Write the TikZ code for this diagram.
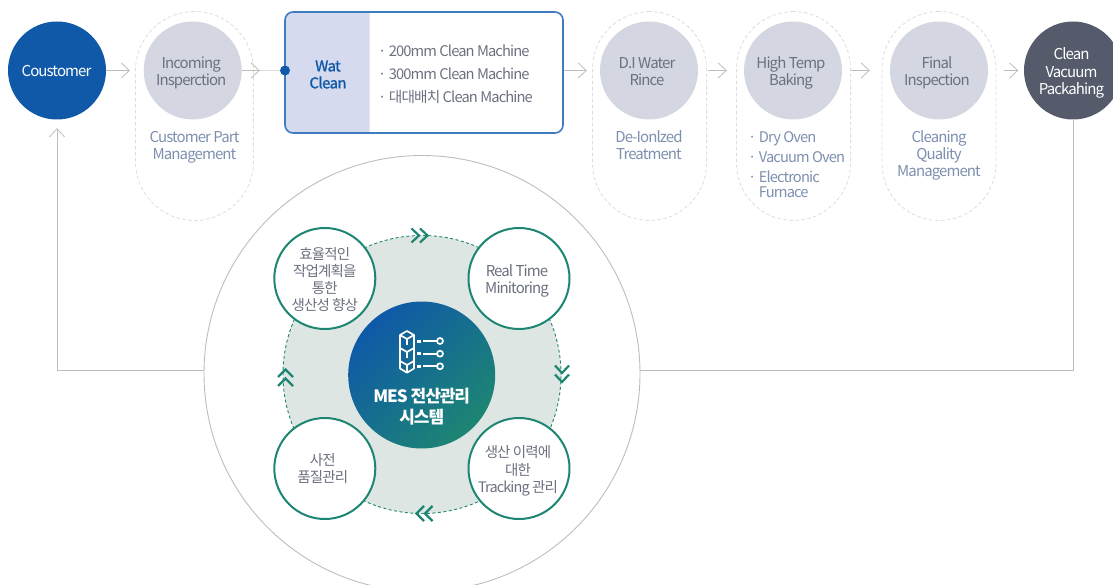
\documentclass[tikz,border=0pt]{standalone}
\usepackage{fontspec}
\setmainfont[LetterSpace=-6]{Noto Sans CJK KR}
\newfontfamily\medfont[LetterSpace=-4,FakeBold=1.2]{Noto Sans CJK KR}
\usetikzlibrary{arrows.meta,calc}
\definecolor{custblue}{HTML}{0F59A8}
\definecolor{soft}{HTML}{D4D7E2}
\definecolor{graytext}{HTML}{6C7180}
\definecolor{subtext}{HTML}{7D90AE}
\definecolor{darkcirc}{HTML}{555B6B}
\definecolor{dashgray}{HTML}{DCDCDC}
\definecolor{arrowgray}{HTML}{BDBDBD}
\definecolor{boxblue}{HTML}{3F7CBF}
\definecolor{cellblue}{HTML}{D6DAEE}
\definecolor{teal1}{HTML}{1D8672}
\definecolor{discfill}{HTML}{DDE6E3}
\tikzset{
  x=1pt,y=-1pt,
  txt/.style={font=\fontsize{15}{17}\selectfont,inner sep=0pt,align=center},
  stage/.style={circle,minimum size=98pt,inner sep=0pt},
  softstage/.style={stage,fill=soft},
  softlab/.style={txt,text=graytext},
  whitelab/.style={txt,text=white},
  capsule/.style={rectangle,draw=dashgray,dash pattern=on 3.5pt off 2.5pt,line width=.8pt,rounded corners=57pt,minimum width=114pt,minimum height=209pt,inner sep=0pt},
  subnote/.style={txt,text=subtext},
  flow/.style={draw=arrowgray,line width=.8pt,-{Straight Barb[length=8pt,width=15pt,line width=.8pt]}},
  ret/.style={draw=arrowgray,line width=1pt},
  small/.style={circle,draw=teal1,line width=2pt,fill=white,minimum size=101pt,inner sep=0pt},
  smalllab/.style={txt,text=graytext,font=\fontsize{14.5}{17}\selectfont},
  chev/.style={draw=teal1,line width=2.2pt},
  icon/.style={draw=white,line width=1.7pt,line join=round}
}
\begin{document}
\begin{tikzpicture}
\useasboundingbox (0,0) rectangle (1113,585);
% capsules
\node[capsule,minimum width=118pt,rounded corners=59pt] (capA) at (194.5,116) {};
\node[capsule] (capB) at (649.5,116) {};
\node[capsule] (capC) at (793.5,116) {};
\node[capsule] (capD) at (939,116) {};
% stages
\node[stage,fill=custblue] (cust) at (57,70.5) {};
\node[softstage] (inc) at (192.7,70.5) {};
\node[softstage] (di) at (649,70.5) {};
\node[softstage] (high) at (793,70.5) {};
\node[softstage] (final) at (939,70.5) {};
\node[stage,fill=darkcirc] (clean) at (1073,70.5) {};
\node[whitelab] (custL) at (56.5,71.5) {Coustomer};
\node[softlab] (incL) at (191.2,72.5) {Incoming\\Insperction};
\node[softlab] (diL) at (647,71.5) {D.I Water\\Rince};
\node[softlab] (highL) at (791,72.5) {High Temp\\Baking};
\node[softlab] (finalL) at (937,72.5) {Final\\Inspection};
\node[whitelab,font=\fontsize{15}{17.5}\selectfont] (cleanL) at (1071.5,73) {Clean\\Vacuum\\Packahing};
% sub notes
\node[subnote] (noteA) at (194.5,147.5) {Customer Part\\Management};
\node[subnote] (noteB) at (649,145) {De-Ionlzed\\Treatment};
\node[subnote,align=left,anchor=north west,font=\fontsize{14.7}{15}\selectfont] (noteC) at (748,131.5) {· Dry Oven\\[5pt]· Vacuum Oven\\[5pt]· Electronic\\\phantom{· }Furnace};
\node[subnote] (noteD) at (939,155.5) {Cleaning\\Quality\\Management};
% wat clean box
\fill[cellblue] (369.5,12) [rounded corners=8pt] -- (285,12) -- (285,133) [sharp corners] -- (369.5,133) -- cycle;
\node[rectangle,draw=boxblue,line width=1.6pt,rounded corners=8pt,minimum width=278pt,minimum height=121pt,inner sep=0pt] (wat) at (424,72.5) {};
\node[txt,text=custblue,font=\fontsize{15}{17}\medfont] (watlab) at (328,74.5) {Wat\\Clean};
\node[txt,text=graytext,align=left,anchor=west,font=\fontsize{14.7}{23}\selectfont] (watlist) at (378,74) {· 200mm Clean Machine\\· 300mm Clean Machine\\· 대대배치 Clean Machine};
\node[circle,fill=custblue,minimum size=10pt,inner sep=0pt] (dot) at (285,70.5) {};
% flow connectors
\draw[draw=arrowgray!50,line width=.8pt] (inc) -- (dot);
\draw[flow,shorten >=20pt] (inc) -- (dot);
\draw[flow,shorten >=13.6pt] (cust) -- (inc);
\path let \p1=(wat.east), \p2=(di.west) in coordinate (watout) at (\x1,\y2);
\draw[flow,shorten >=13pt] (watout) -- (di);
\draw[flow,shorten <=10pt,shorten >=17pt] (di) -- (high);
\draw[flow,shorten <=9pt,shorten >=20pt] (high) -- (final);
\draw[flow,shorten <=16pt,shorten >=5.5pt] (final) -- (clean);
% big circle & return
\node[circle,draw=arrowgray,line width=.9pt,minimum size=436pt,inner sep=0pt] (big) at (422,373.5) {};
\coordinate (retL) at (204,370.5);
\coordinate (retR) at (640,370.5);
\draw[ret] (clean.south) |- (retR);
\draw[flow,line width=1pt,shorten >=8.5pt] (retL) -| (cust.south);
% disc
\node[circle,fill=discfill,draw=teal1,dash pattern=on 3pt off 2.5pt,line width=.9pt,minimum size=278pt,inner sep=0pt] (disc) at (422,374.5) {};
% centre
\shade[top color=custblue,bottom color=teal1,shading angle=45] (421.7,375) circle[radius=73.5];
\node[circle,minimum size=147pt,inner sep=0pt] (hub) at (421.7,375) {};
\node[txt,text=white,font=\fontsize{17}{21}\selectfont\bfseries] (hublab) at (421.7,406.5) {MES 전산관리\\시스템};
% icon
\draw[icon] (407,331)--(414,335)--(414,368.5)--(407,372.7)--(400,368.5)--(400,335)--cycle;
\draw[icon] (400,335)--(407,339)--(414,335);
\draw[icon] (400,348)--(407,352)--(414,348);
\draw[icon] (400,361)--(407,365)--(414,361);
\draw[icon] (407,339)--(407,345) (407,352)--(407,358) (407,365)--(407,372.7);
\foreach \yy in {341,353.7,366.3}{
  \fill[white] (417.3,\yy-1.5) rectangle (420.7,\yy+1.5);
  \draw[icon] (423,\yy)--(437,\yy);
  \draw[icon] (440,\yy) circle[radius=3];
}
% small circles
\node[small] (s1) at (324.8,278.5) {};
\node[small] (s2) at (519,278.5) {};
\node[small] (s3) at (324.8,468.5) {};
\node[small] (s4) at (519,468.5) {};
\node[smalllab] (s1L) at (324.8,279.5) {효율적인\\작업계획을\\통한\\생산성 향상};
\node[smalllab,font=\fontsize{15}{17}\selectfont] (s2L) at (517,280.5) {Real Time\\Minitoring};
\node[smalllab] (s3L) at (322.8,469) {사전\\품질관리};
\node[smalllab,font=\fontsize{14.5}{17.5}\selectfont] (s4L) at (518,471) {생산 이력에\\대한\\Tracking 관리};
% chevrons
\draw[chev] (411.5,228.5)--(419,235.5)--(411.5,242.5) (420,228.5)--(427.5,235.5)--(420,242.5);
\draw[chev] (555,365.5)--(562,373)--(569,365.5) (555,374.5)--(562,382)--(569,374.5);
\draw[chev] (424,506)--(416.5,513.5)--(424,521) (432.5,506)--(425,513.5)--(432.5,521);
\draw[chev] (278,377)--(285.5,369.5)--(293,377) (278,386)--(285.5,378.5)--(293,386);
\end{tikzpicture}
\end{document}
